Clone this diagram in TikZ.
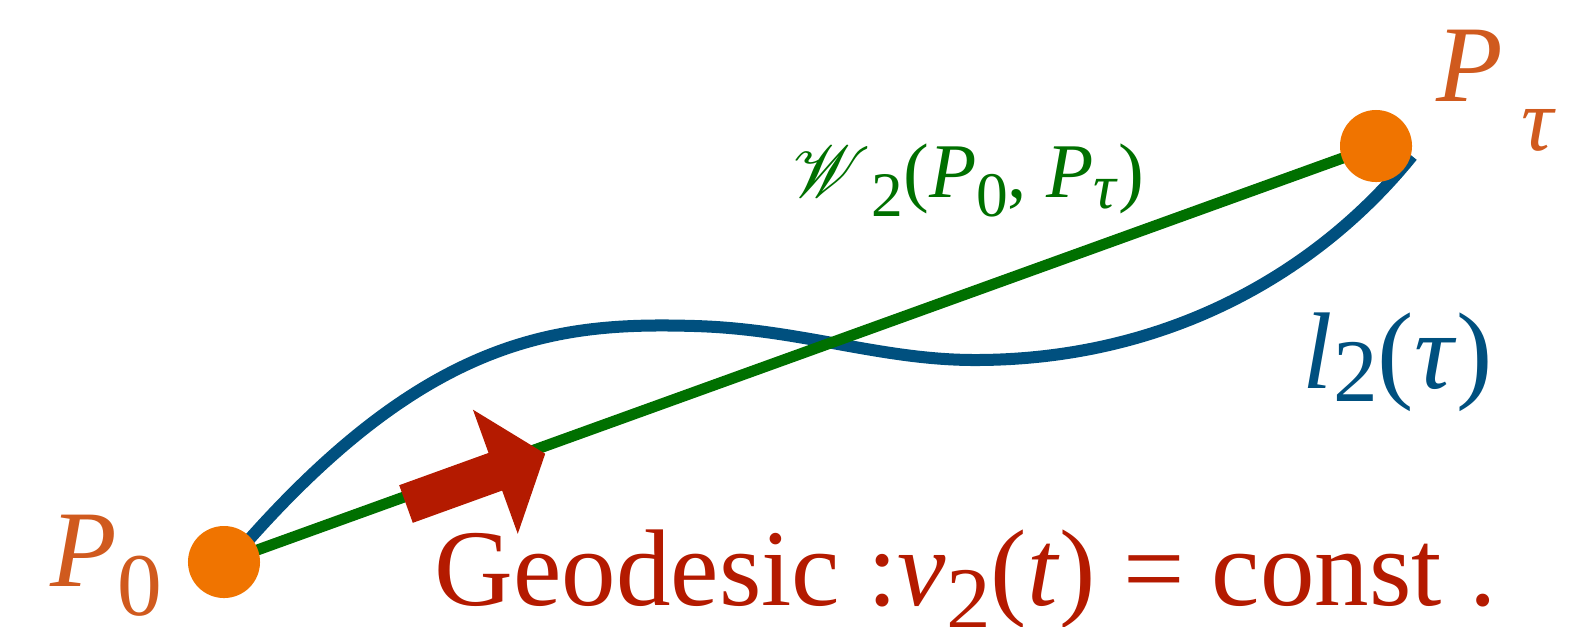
\documentclass[tikz,border=0pt]{standalone}
\usepackage{fontspec}
\setmainfont{Liberation Serif}
\usepackage{mathrsfs}
\usepackage{graphicx}

\definecolor{dotorange}{HTML}{F07400}
\definecolor{lblorange}{HTML}{D05A1E}
\definecolor{geogreen}{HTML}{007000}
\definecolor{curveblue}{HTML}{00507F}
\definecolor{arrowred}{HTML}{B41A00}

% lowered subscript, optional drop
\newcommand{\lowsub}[2][0.25em]{\raisebox{-#1}{\scalebox{0.82}{#2}}}

\begin{document}
\begin{tikzpicture}[x=0.01cm, y=-0.01cm,
  ptdot/.style={circle, fill=dotorange, minimum size=0.72cm, inner sep=0pt},
  lbl/.style={anchor=base west, inner sep=0pt, font=\fontsize{31}{36}\selectfont},
  geoline/.style={geogreen, line width=0.11cm},
  curve/.style={curveblue, line width=0.12cm},
]
  \useasboundingbox (0,0) rectangle (1582,626);

  % end points
  \coordinate (p0) at (224,562);
  \coordinate (pt) at (1376,146);

  % blue path l_2
  \draw[curve] (246,543) .. controls (430,335) and (560,322) .. (695,326)
               .. controls (800,329) and (880,360) .. (975,360)
               .. controls (1170,360) and (1320,270) .. (1412,156);

  % geodesic with block arrow
  \draw[geoline] (p0) -- (pt);
  \begin{scope}[shift={(406,504)}, rotate=19.86]
    \fill[arrowred] (0,20) -- (95,20) -- (95,66) -- (148,0) -- (95,-66)
                    -- (95,-20) -- (0,-20) -- cycle;
  \end{scope}

  \node[ptdot] (d0) at (p0) {};
  \node[ptdot] (dt) at (pt) {};

  % labels
  \node[lbl, text=lblorange] (l0) at (50,586) {\textit{P}\lowsub[0.27em]{0}};
  \node[lbl, text=lblorange] (lt) at (1436,101) {\textit{P}\,\lowsub[0.45em]{\textit{τ}}};
  \node[lbl, text=geogreen, font=\fontsize{22}{26}\selectfont] (lw) at (792,197)
    {$\mathscr{W}$\lowsub{2}(\textit{P}\lowsub{0}, \textit{P}\lowsub[0.15em]{\textit{τ}})};
  \node[lbl, text=curveblue] (ll) at (1302,388) {\textit{l}\lowsub[0.12em]{2}(\textit{τ})};
  \node[lbl, text=arrowred] (lg) at (434,605)
    {Geodesic :\textit{v}\lowsub[0.22em]{2}(\textit{t}) = const .};
\end{tikzpicture}
\end{document}
